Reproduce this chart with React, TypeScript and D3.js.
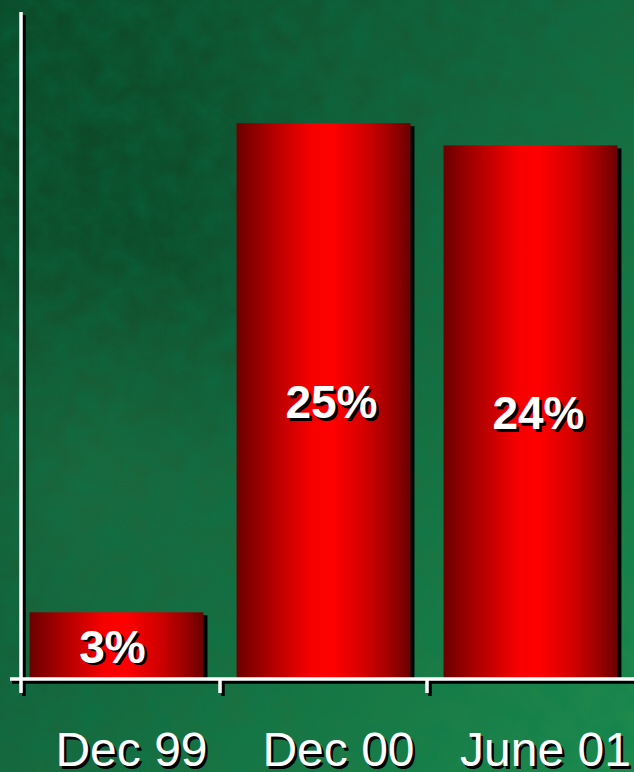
import React from "react";
import * as d3 from "d3";

const categories = ["Dec 99", "Dec 00", "June 01"];
const values = [3, 25, 24];
const valueLabels = ["3%", "25%", "24%"];
const yDomainMax = 30;

const W = 634;
const H = 772;

export default function App() {
  const baseY = 679;
  const topY = 12;
  const x = d3
    .scaleBand<string>()
    .domain(categories)
    .range([13, 634])
    .paddingInner(0.16)
    .paddingOuter(0.08);
  const y = d3.scaleLinear().domain([0, yDomainMax]).range([baseY, topY]);
  const step = x.step();
  const axisX = 21;
  const tickXs = [axisX, ...categories.slice(1).map((c) => (x(c) as number) - (step * 0.16) / 2)];

  const labelFont = "'Liberation Sans', Arial, sans-serif";

  return (
    <svg
      width={W}
      height={H}
      style={{ position: "absolute", left: 0, top: 0, display: "block" }}
    >
      <defs>
        <linearGradient id="bg" x1="0" y1="0" x2="1" y2="1">
          <stop offset="0" stopColor="#0b4625" />
          <stop offset="0.45" stopColor="#16623a" />
          <stop offset="1" stopColor="#1f8c4d" />
        </linearGradient>
        <radialGradient id="spot1" cx="0.22" cy="0.3" r="0.35">
          <stop offset="0" stopColor="#0a3f20" stopOpacity="0.6" />
          <stop offset="1" stopColor="#0a3f20" stopOpacity="0" />
        </radialGradient>
        <radialGradient id="spot2" cx="0.15" cy="0.6" r="0.3">
          <stop offset="0" stopColor="#2a7a48" stopOpacity="0.35" />
          <stop offset="1" stopColor="#2a7a48" stopOpacity="0" />
        </radialGradient>
        <filter id="noise" x="0" y="0" width="100%" height="100%">
          <feTurbulence type="fractalNoise" baseFrequency="0.04" numOctaves="4" seed="3" />
          <feColorMatrix
            type="matrix"
            values="0 0 0 0 0  0 0 0 0 0.2  0 0 0 0 0.08  0 0 0 0.5 -0.1"
          />
        </filter>
        <linearGradient id="bar" x1="0" y1="0" x2="1" y2="0">
          <stop offset="0" stopColor="#6c0000" />
          <stop offset="0.2" stopColor="#b00000" />
          <stop offset="0.42" stopColor="#f50000" />
          <stop offset="0.55" stopColor="#ff0000" />
          <stop offset="0.75" stopColor="#d00000" />
          <stop offset="0.9" stopColor="#980000" />
          <stop offset="1" stopColor="#6a0000" />
        </linearGradient>
      </defs>

      <rect x={0} y={0} width={W} height={H} fill="url(#bg)" />
      <rect x={0} y={0} width={W} height={H} fill="url(#spot1)" />
      <rect x={0} y={0} width={W} height={H} fill="url(#spot2)" />
      <rect x={0} y={0} width={W} height={H} filter="url(#noise)" />

      {/* bars */}
      {categories.map((c, i) => {
        const bx = x(c) as number;
        const bw = x.bandwidth();
        const by = y(values[i]);
        const bh = baseY - by;
        return (
          <g key={c}>
            <rect x={bx + 4} y={by + 3} width={bw} height={bh} fill="#000" />
            <rect x={bx} y={by} width={bw} height={bh} fill="url(#bar)" />
          </g>
        );
      })}

      {/* axes with shadow */}
      <g>
        <line x1={axisX + 3} y1={topY + 3} x2={axisX + 3} y2={baseY + 2} stroke="#000" strokeWidth={3.5} />
        <line x1={12} y1={baseY + 3} x2={W} y2={baseY + 3} stroke="#000" strokeWidth={3.5} />
        {tickXs.map((tx, i) => (
          <line key={"ts" + i} x1={tx + 3} y1={baseY} x2={tx + 3} y2={baseY + 17} stroke="#000" strokeWidth={3.5} />
        ))}
        <line x1={axisX} y1={topY} x2={axisX} y2={baseY} stroke="#fff" strokeWidth={3.5} />
        <line x1={10} y1={baseY} x2={W} y2={baseY} stroke="#fff" strokeWidth={3.5} />
        {tickXs.map((tx, i) => (
          <line key={"t" + i} x1={tx} y1={baseY} x2={tx} y2={baseY + 14} stroke="#fff" strokeWidth={3.5} />
        ))}
      </g>

      {/* value labels */}
      {categories.map((c, i) => {
        const cx = (x(c) as number) + x.bandwidth() / 2 + (i === 0 ? -4 : 8);
        const cy = (y(values[i]) + baseY) / 2 + 17;
        return (
          <g key={"v" + c} fontFamily={labelFont} fontWeight="bold" fontSize={46} textAnchor="middle">
            <text x={cx + 2.5} y={cy + 2.5} fill="#000">{valueLabels[i]}</text>
            <text x={cx} y={cy} fill="#fff">{valueLabels[i]}</text>
          </g>
        );
      })}

      {/* category labels */}
      {categories.map((c) => {
        const cx = (x(c) as number) + x.bandwidth() / 2 + 15;
        const cy = 766;
        return (
          <g key={"c" + c} fontFamily={labelFont} fontSize={48} textAnchor="middle">
            <text x={cx + 2.5} y={cy + 2.5} fill="#000">{c}</text>
            <text x={cx} y={cy} fill="#fff">{c}</text>
          </g>
        );
      })}
    </svg>
  );
}
